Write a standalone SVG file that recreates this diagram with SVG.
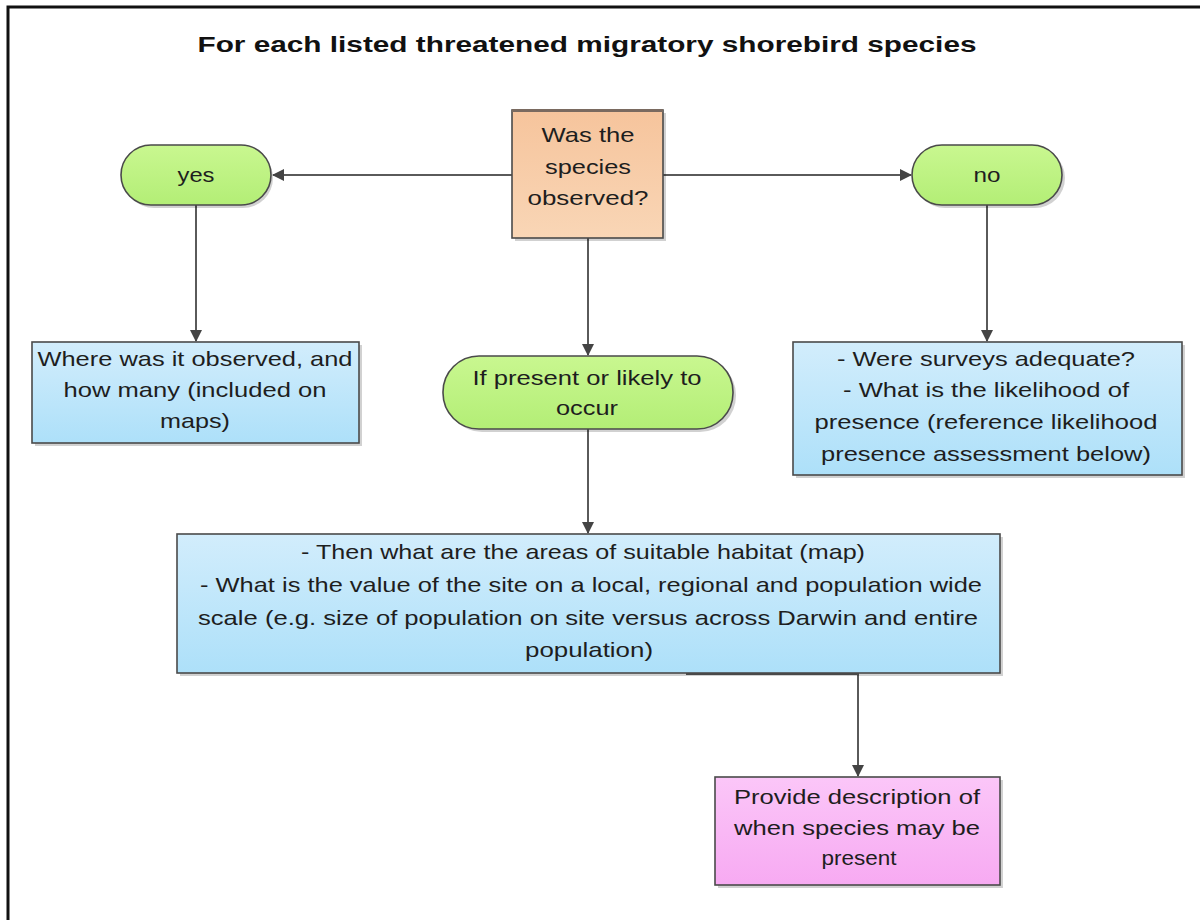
<svg xmlns="http://www.w3.org/2000/svg" width="1200" height="920" viewBox="0 0 1200 920">
  <style>
    .t { font-family: "Liberation Sans", Arial, sans-serif; font-size: 21px; fill: #1e1e1e; text-anchor: middle; }
    .title { font-family: "Liberation Sans", Arial, sans-serif; font-size: 22px; font-weight: bold; fill: #111; text-anchor: middle; }
    .node { stroke: #4a4a4a; stroke-width: 1.6; }
    .shadow { fill: #000; opacity: 0.18; }
    .conn { fill: none; stroke: #5a5a5a; stroke-width: 2; }
  </style>
  <defs>
    <linearGradient id="gGreen" x1="0" y1="0" x2="0" y2="1">
      <stop offset="0" stop-color="#c9f790"/>
      <stop offset="1" stop-color="#b3ee76"/>
    </linearGradient>
    <linearGradient id="gBlue" x1="0" y1="0" x2="0" y2="1">
      <stop offset="0" stop-color="#d2edfc"/>
      <stop offset="1" stop-color="#ade0f9"/>
    </linearGradient>
    <linearGradient id="gPeach" x1="0" y1="0" x2="0" y2="1">
      <stop offset="0" stop-color="#f6c49c"/>
      <stop offset="1" stop-color="#f9d6b6"/>
    </linearGradient>
    <linearGradient id="gPink" x1="0" y1="0" x2="0" y2="1">
      <stop offset="0" stop-color="#fbc6f8"/>
      <stop offset="1" stop-color="#f7aaf2"/>
    </linearGradient>
    <marker id="arrow" viewBox="0 0 10 10" refX="9" refY="5" markerWidth="6" markerHeight="6" orient="auto" markerUnits="userSpaceOnUse">
      <path d="M0,0 L10,5 L0,10 z" fill="#444"/>
    </marker>
    <marker id="arrowH" viewBox="0 0 12 12" refX="11" refY="6" markerWidth="12" markerHeight="12" orient="auto" markerUnits="userSpaceOnUse">
      <path d="M0,0 L12,6 L0,12 z" fill="#444"/>
    </marker>
  </defs>

  <rect width="1200" height="920" fill="#ffffff"/>
  <!-- outer frame -->
  <rect x="8" y="7" width="1300" height="1000" fill="none" stroke="#111" stroke-width="3"/>

  <g id="title">
    <text class="title" x="587" y="52" textLength="779" lengthAdjust="spacingAndGlyphs">For each listed threatened migratory shorebird species</text>
  </g>

  <g id="connectors">
    <line class="conn" x1="512" y1="175" x2="273" y2="175" marker-end="url(#arrowH)"/>
    <line class="conn" x1="663" y1="175" x2="911" y2="175" marker-end="url(#arrowH)"/>
    <line class="conn" x1="196" y1="205" x2="196" y2="341" marker-end="url(#arrowH)"/>
    <line class="conn" x1="987" y1="205" x2="987" y2="341" marker-end="url(#arrowH)"/>
    <line class="conn" x1="588" y1="238" x2="588" y2="355" marker-end="url(#arrowH)"/>
    <line class="conn" x1="588" y1="429" x2="588" y2="533" marker-end="url(#arrowH)"/>
    <path class="conn" d="M686,674 L858,674 L858,776" marker-end="url(#arrowH)"/>
  </g>

  <g id="decision">
    <rect class="shadow" x="515" y="113" width="151" height="128"/>
    <rect class="node" x="512" y="110" width="151" height="128" fill="url(#gPeach)"/>
    <line x1="512" y1="110.5" x2="663" y2="110.5" stroke="#7a6a60" stroke-width="3"/>
    <text class="t" x="588" y="142" textLength="93" lengthAdjust="spacingAndGlyphs">Was the</text>
    <text class="t" x="588" y="174" textLength="86" lengthAdjust="spacingAndGlyphs">species</text>
    <text class="t" x="588" y="205" textLength="121" lengthAdjust="spacingAndGlyphs">observed?</text>
  </g>

  <g id="yes">
    <rect class="shadow" x="124" y="148" width="149" height="60" rx="30"/>
    <rect class="node" x="121" y="145" width="150" height="60" rx="30" fill="url(#gGreen)"/>
    <text class="t" x="196" y="182" textLength="37" lengthAdjust="spacingAndGlyphs">yes</text>
  </g>

  <g id="no">
    <rect class="shadow" x="915" y="148" width="150" height="60" rx="30"/>
    <rect class="node" x="912" y="145" width="150" height="60" rx="30" fill="url(#gGreen)"/>
    <text class="t" x="987" y="182" textLength="27" lengthAdjust="spacingAndGlyphs">no</text>
  </g>

  <g id="where-observed">
    <rect class="shadow" x="35" y="345" width="327" height="101"/>
    <rect class="node" x="32" y="342" width="327" height="101" fill="url(#gBlue)"/>
    <text class="t" x="195" y="366" textLength="315" lengthAdjust="spacingAndGlyphs">Where was it observed, and</text>
    <text class="t" x="195" y="397" textLength="263" lengthAdjust="spacingAndGlyphs">how many (included on</text>
    <text class="t" x="195" y="428" textLength="70" lengthAdjust="spacingAndGlyphs">maps)</text>
  </g>

  <g id="surveys">
    <rect class="shadow" x="796" y="345" width="389" height="133"/>
    <rect class="node" x="793" y="342" width="389" height="133" fill="url(#gBlue)"/>
    <text class="t" x="986" y="366" textLength="298" lengthAdjust="spacingAndGlyphs">- Were surveys adequate?</text>
    <text class="t" x="986" y="397" textLength="286" lengthAdjust="spacingAndGlyphs">- What is the likelihood of</text>
    <text class="t" x="986" y="429" textLength="343" lengthAdjust="spacingAndGlyphs">presence (reference likelihood</text>
    <text class="t" x="986" y="461" textLength="330" lengthAdjust="spacingAndGlyphs">presence assessment below)</text>
  </g>

  <g id="if-present">
    <rect class="shadow" x="446" y="359" width="290" height="73" rx="36"/>
    <rect class="node" x="443" y="356" width="290" height="73" rx="36" fill="url(#gGreen)"/>
    <text class="t" x="587" y="385" textLength="229" lengthAdjust="spacingAndGlyphs">If present or likely to</text>
    <text class="t" x="587" y="415" textLength="62" lengthAdjust="spacingAndGlyphs">occur</text>
  </g>

  <g id="habitat">
    <rect class="shadow" x="180" y="537" width="823" height="139"/>
    <rect class="node" x="177" y="534" width="823" height="139" fill="url(#gBlue)"/>
    <text class="t" x="583" y="559" textLength="564" lengthAdjust="spacingAndGlyphs">- Then what are the areas of suitable habitat (map)</text>
    <text class="t" x="591" y="592" textLength="782" lengthAdjust="spacingAndGlyphs">- What is the value of the site on a local, regional and population wide</text>
    <text class="t" x="588" y="625" textLength="780" lengthAdjust="spacingAndGlyphs">scale (e.g. size of population on site versus across Darwin and entire</text>
    <text class="t" x="589" y="657" textLength="128" lengthAdjust="spacingAndGlyphs">population)</text>
  </g>

  <g id="description">
    <rect class="shadow" x="718" y="780" width="285" height="108"/>
    <rect class="node" x="715" y="777" width="285" height="108" fill="url(#gPink)"/>
    <text class="t" x="857" y="804" textLength="246" lengthAdjust="spacingAndGlyphs">Provide description of</text>
    <text class="t" x="857" y="835" textLength="246" lengthAdjust="spacingAndGlyphs">when species may be</text>
    <text class="t" x="859" y="865" textLength="75" lengthAdjust="spacingAndGlyphs">present</text>
  </g>
</svg>
